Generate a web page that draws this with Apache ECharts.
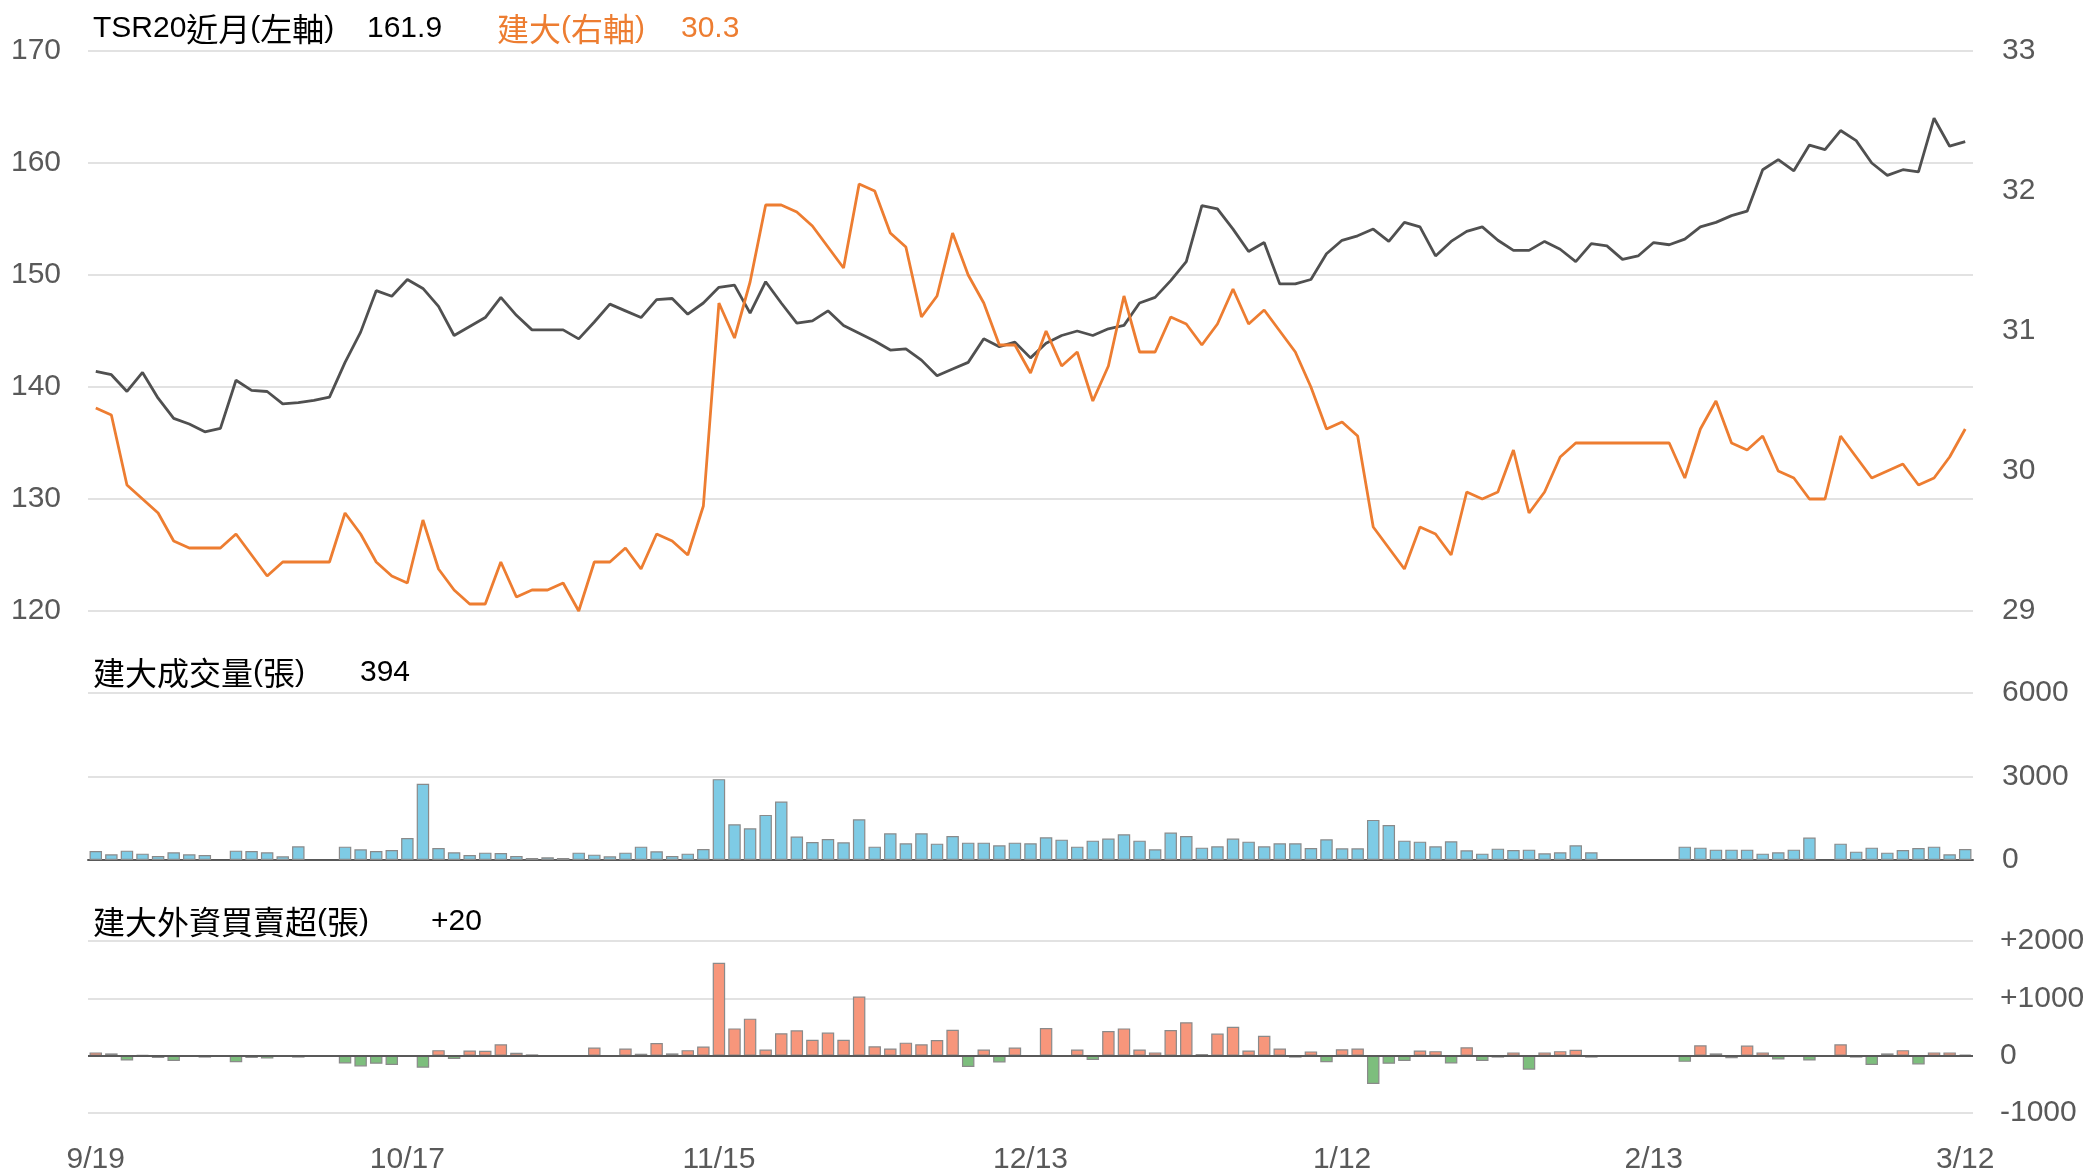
<!DOCTYPE html>
<html><head><meta charset="utf-8">
<script src="https://cdn.jsdelivr.net/npm/echarts@6/dist/echarts.min.js"></script>
<style>html,body{margin:0;padding:0;background:#fff}#c{width:2093px;height:1175px}</style>
</head><body><div id="c"></div>
<script>
const dates = [
'9/19','9/20','9/21','9/22','9/25','9/26','9/27','9/28','9/29',
'10/2','10/3','10/4','10/5','10/6','10/9','10/10','10/11','10/12','10/13','10/16','10/17','10/18','10/19','10/20','10/23','10/24','10/25','10/26','10/27','10/30','10/31',
'11/1','11/2','11/3','11/6','11/7','11/8','11/9','11/10','11/14','11/15','11/16','11/17','11/20','11/21','11/22','11/23','11/24','11/27','11/28','11/29','11/30',
'12/1','12/4','12/5','12/6','12/7','12/8','12/11','12/12','12/13','12/14','12/15','12/18','12/19','12/20','12/21','12/22','12/26','12/27','12/28','12/29',
'1/2','1/3','1/4','1/5','1/8','1/9','1/10','1/11','1/12','1/15','1/16','1/17','1/18','1/19','1/22','1/23','1/24','1/25','1/26','1/29','1/30','1/31',
'2/1','2/2','2/5','2/6','2/7','2/8','2/13','2/14','2/15','2/16','2/19','2/20','2/21','2/22','2/23','2/26','2/27','2/28','2/29',
'3/1','3/4','3/5','3/6','3/7','3/8','3/11','3/12'];

const tsr20 = [
141.4,141.1,139.6,141.3,139.0,137.2,136.7,136.0,136.3,140.6,
139.7,139.6,138.5,138.6,138.8,139.1,142.2,144.9,148.6,148.1,
149.6,148.8,147.2,144.6,145.4,146.2,148.0,146.4,145.1,145.1,
145.1,144.3,145.8,147.4,146.8,146.2,147.8,147.9,146.5,147.5,
148.9,149.1,146.6,149.4,147.5,145.7,145.9,146.8,145.5,144.8,
144.1,143.3,143.4,142.4,141.0,141.6,142.2,144.3,143.6,144.0,
142.6,143.9,144.6,145.0,144.6,145.2,145.5,147.5,148.0,149.5,
151.2,156.2,155.9,154.1,152.1,152.9,149.2,149.2,149.6,151.9,
153.1,153.5,154.1,153.0,154.7,154.3,151.7,153.0,153.9,154.3,
153.1,152.2,152.2,153.0,152.3,151.2,152.8,152.6,151.4,151.7,
152.9,152.7,153.2,154.3,154.7,155.3,155.7,159.4,160.3,159.3,
161.6,161.2,162.9,162.0,160.0,158.9,159.4,159.2,164.0,161.5,
161.9];

const kenda = [
30.45,30.40,29.90,29.80,29.70,29.50,29.45,29.45,29.45,29.55,
29.40,29.25,29.35,29.35,29.35,29.35,29.70,29.55,29.35,29.25,
29.20,29.65,29.30,29.15,29.05,29.05,29.35,29.10,29.15,29.15,
29.20,29.00,29.35,29.35,29.45,29.30,29.55,29.50,29.40,29.75,
31.20,30.95,31.35,31.90,31.90,31.85,31.75,31.60,31.45,32.05,
32.00,31.70,31.60,31.10,31.25,31.70,31.40,31.20,30.90,30.90,
30.70,31.00,30.75,30.85,30.50,30.75,31.25,30.85,30.85,31.10,
31.05,30.90,31.05,31.30,31.05,31.15,31.00,30.85,30.60,30.30,
30.35,30.25,29.60,29.45,29.30,29.60,29.55,29.40,29.85,29.80,
29.85,30.15,29.70,29.85,30.10,30.20,30.20,30.20,30.20,30.20,
30.20,30.20,29.95,30.30,30.50,30.20,30.15,30.25,30.00,29.95,
29.80,29.80,30.25,30.10,29.95,30.00,30.05,29.90,29.95,30.10,
30.30];

const volume = [
324,204,336,228,144,276,204,180,null,336,
324,276,132,492,null,null,480,384,324,360,
792,2736,432,276,180,264,252,144,72,96,
72,264,192,132,264,480,312,144,228,396,
2904,1284,1140,1620,2100,840,648,756,636,1464,
480,960,600,960,588,864,624,624,528,624,
600,816,732,480,696,768,924,696,384,984,
864,444,492,768,660,492,600,600,432,744,
420,420,1440,1260,696,660,492,672,348,228,
408,360,372,240,276,528,276,null,null,null,
null,null,480,444,372,372,372,228,276,372,
804,null,588,300,444,264,360,432,480,204,
394];

const foreignNet = [
57,40,-85,10,-40,-91,4,-34,null,-113,
-40,-51,-5,-34,null,null,-136,-187,-142,-164,
-10,-210,96,-57,91,85,198,51,23,5,
3,-10,142,5,125,34,221,40,96,159,
1620,476,646,108,391,442,278,402,278,1031,
164,125,227,198,272,453,-198,108,-119,142,
-5,482,5,108,-74,431,476,108,57,448,
584,28,385,504,91,346,125,-34,74,-113,
113,125,-493,-142,-91,91,79,-136,147,-91,
-34,57,-244,57,79,102,-34,null,null,null,
null,null,-108,181,40,-45,176,57,-68,5,
-85,null,198,-34,-164,40,96,-153,57,57,
20];

const titles = {
  tsr: 'TSR20近月(左軸)', kenda: '建大(右軸)',
  vol: '建大成交量(張)', net: '建大外資買賣超(張)'
};

const LATIN = "'Liberation Sans',sans-serif";
const CJK = "'Noto Sans CJK TC','Liberation Sans',sans-serif";
const FONT = "'Liberation Sans','Noto Sans CJK TC',sans-serif";
const GRID_COLOR = '#D9D9D9';
const LABEL_COLOR = '#595959';
const ORANGE = '#ED7D31';
const DARK = '#505050';

const chart = echarts.init(document.getElementById('c'), null, {renderer: 'canvas'});

const lastTsr = tsr20[tsr20.length - 1].toFixed(1);
const lastKenda = kenda[kenda.length - 1].toFixed(1);
const lastVol = String(volume[volume.length - 1]);
const lastNetV = foreignNet[foreignNet.length - 1];
const lastNet = (lastNetV > 0 ? '+' : '') + lastNetV;

// split text into CJK / latin runs, drawn with rich text
function richOf(text) {
  const runs = [];
  let cur = '', curType = null;
  for (const ch of text) {
    const t = /[\u3000-\u9fff\uf900-\ufaff]/.test(ch) ? 'c' : 'l';
    if (t !== curType && cur) { runs.push('{' + curType + '|' + cur + '}'); cur = ''; }
    curType = t; cur += ch;
  }
  if (cur) runs.push('{' + curType + '|' + cur + '}');
  return runs.join('');
}

function txt(x, y, text, color) {
  return {type: 'text', x: x, y: y, silent: true,
    style: {text: richOf(text), fill: color, verticalAlign: 'middle', align: 'left',
      rich: {
        c: {font: '32px ' + CJK, fill: color, verticalAlign: 'middle'},
        l: {font: '30px ' + LATIN, fill: color, verticalAlign: 'middle'}
      }}};
}

const axisLabelBase = {color: LABEL_COLOR, fontSize: 30, fontFamily: FONT};
const splitLineBase = {show: true, lineStyle: {color: GRID_COLOR, width: 1.5}};

const option = {
  animation: false,
  backgroundColor: '#fff',
  grid: [
    {left: 88, right: 120, top: 51, height: 560},
    {left: 88, right: 120, top: 693, height: 167},
    {left: 88, right: 120, top: 941, height: 176}
  ],
  xAxis: [
    {type: 'category', gridIndex: 0, data: dates, boundaryGap: true,
     axisLine: {show: false}, axisTick: {show: false}, axisLabel: {show: false}},
    {type: 'category', gridIndex: 1, data: dates, boundaryGap: true,
     axisLine: {show: true, lineStyle: {color: '#595959', width: 2}}, axisTick: {show: false}, axisLabel: {show: false}},
    {type: 'category', gridIndex: 2, data: dates, boundaryGap: true,
     axisLine: {show: false, onZero: false}, axisTick: {show: false},
     axisLabel: Object.assign({}, axisLabelBase, {interval: 19, margin: 32, hideOverlap: false})}
  ],
  yAxis: [
    {type: 'value', gridIndex: 0, position: 'left', min: 120, max: 170, interval: 10,
     axisLine: {show: false}, axisTick: {show: false},
     axisLabel: Object.assign({}, axisLabelBase, {margin: 27}), splitLine: splitLineBase},
    {type: 'value', gridIndex: 0, position: 'right', min: 29, max: 33, interval: 1,
     axisLine: {show: false}, axisTick: {show: false},
     axisLabel: Object.assign({}, axisLabelBase, {margin: 29}), splitLine: {show: false}},
    {type: 'value', gridIndex: 1, position: 'right', min: 0, max: 6000, interval: 3000,
     axisLine: {show: false}, axisTick: {show: false},
     axisLabel: Object.assign({}, axisLabelBase, {margin: 29, formatter: v => String(v)}),
     splitLine: splitLineBase},
    {type: 'value', gridIndex: 2, position: 'right', min: -1000, max: 2000, interval: 1000,
     axisLine: {show: false}, axisTick: {show: false},
     axisLabel: Object.assign({}, axisLabelBase, {margin: 27,
       formatter: v => (v > 0 ? '+' + v : String(v))}),
     splitLine: splitLineBase}
  ],
  series: [
    {name: 'TSR20', type: 'line', xAxisIndex: 0, yAxisIndex: 0, data: tsr20,
     symbol: 'none', lineStyle: {color: DARK, width: 2.8}, z: 3},
    {name: 'Kenda', type: 'line', xAxisIndex: 0, yAxisIndex: 1, data: kenda,
     symbol: 'none', lineStyle: {color: ORANGE, width: 2.8}, z: 4},
    {name: 'Volume', type: 'bar', xAxisIndex: 1, yAxisIndex: 2, data: volume,
     barCategoryGap: '20%',
     itemStyle: {color: '#7ECBE5', borderColor: '#8A8A8A', borderWidth: 1.2}},
    {name: 'ForeignNet', type: 'bar', xAxisIndex: 2, yAxisIndex: 3, data: foreignNet,
     barCategoryGap: '20%',
     itemStyle: {
       color: p => (p.value >= 0 ? '#F7967B' : '#7DBE7D'),
       borderColor: '#8A8A8A', borderWidth: 1.2},
     markLine: {silent: true, symbol: 'none', label: {show: false},
       lineStyle: {color: '#595959', width: 2, type: 'solid'},
       data: [{yAxis: 0}]}}
  ],
  graphic: [
    txt(93, 29, titles.tsr, '#000'),
    txt(367, 29, lastTsr, '#000'),
    txt(497, 29, titles.kenda, ORANGE),
    txt(681, 29, lastKenda, ORANGE),
    txt(93, 673, titles.vol, '#000'),
    txt(360, 673, lastVol, '#000'),
    txt(93, 922, titles.net, '#000'),
    txt(431, 922, lastNet, '#000')
  ]
};
chart.setOption(option);
</script>
</body></html>
